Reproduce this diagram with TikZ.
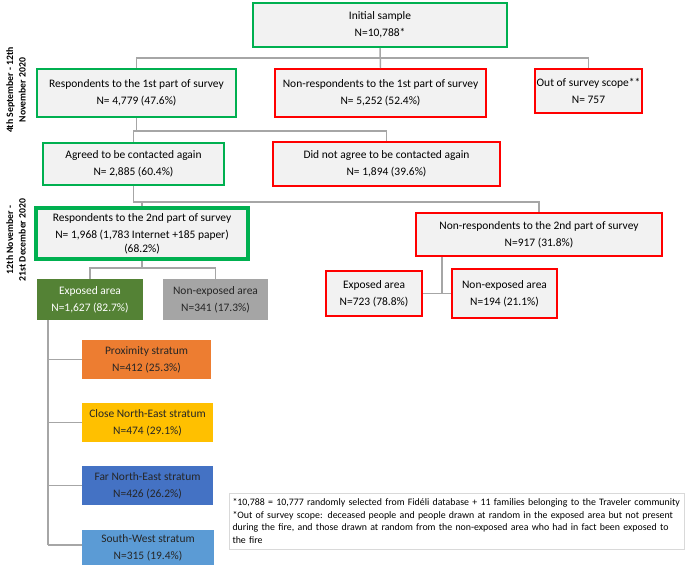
\documentclass[tikz,border=0pt]{standalone}
\usepackage{fontspec}
\setmainfont{Carlito}
\usepackage{tikz}
\usetikzlibrary{positioning}
\definecolor{boxgray}{HTML}{F2F2F2}
\definecolor{okgreen}{HTML}{00B050}
\definecolor{nored}{HTML}{FF0000}
\definecolor{linkgray}{HTML}{A6A6A6}
\definecolor{expgreen}{HTML}{548235}
\definecolor{nexpgray}{HTML}{A5A5A5}
\definecolor{proxorange}{HTML}{ED7D31}
\definecolor{closeyellow}{HTML}{FFC000}
\definecolor{farblue}{HTML}{4472C4}
\definecolor{swblue}{HTML}{5B9BD5}
\tikzset{bsize/.style 2 args = {minimum width=#1*0.75pt, minimum height=#2*0.75pt}}
\tikzset{sbox/.style = {rectangle, fill=boxgray, align=center, inner sep=1pt, font=\fontsize{8.6}{12.6}\selectfont}}
\tikzset{okbox/.style = {sbox, draw=okgreen, line width=1.5pt}}
\tikzset{nobox/.style = {sbox, draw=nored, line width=1.5pt}}
\tikzset{fillbox/.style = {sbox, draw=none, text=black!85}}
\tikzset{link/.style = {draw=linkgray, line width=1.1pt}}
\tikzset{period/.style = {rotate=90, align=center, font=\fontsize{7.3}{9.5}\selectfont\bfseries}}

\begin{document}
\begin{tikzpicture}[x=0.75pt, y=-0.75pt]
      \useasboundingbox (0,0) rectangle (685,564);

      \node [okbox, bsize={254}{44}] (init) at (380,25) {Initial sample\\N=10,788*};

      \node [okbox, bsize={199}{48}] (resp1) at (136.5,93) {Respondents to the 1st part of survey\\N= 4,779 (47.6\%)};
      \node [nobox, bsize={211}{48}] (nonresp1) at (380.5,93) {Non-respondents to the 1st part of survey\\N= 5,252 (52.4\%)};
      \node [nobox, bsize={107}{44}] (out) at (588.5,91) {Out of survey scope**\\N= 757};

      \node [okbox, bsize={181}{42}] (agree) at (133.5,164) {Agreed to be contacted again\\N= 2,885 (60.4\%)};
      \node [nobox, bsize={227}{44}] (disagree) at (386.5,164) {Did not agree to be contacted again\\N= 1,894 (39.6\%)};

      \node [okbox, line width=2.3pt, bsize={212}{51}] (resp2) at (142,233.5) {Respondents to the 2nd part of survey\\N= 1,968 (1,783 Internet +185 paper)\\[-2pt](68.2\%)};
      \node [nobox, bsize={246}{43}] (nonresp2) at (539,234.5) {Non-respondents to the 2nd part of survey\\N=917 (31.8\%)};

      \node [fillbox, fill=expgreen, text=white, bsize={106}{41}] (expo) at (90,299.5) {Exposed area\\N=1,627 (82.7\%)};
      \node [fillbox, fill=nexpgray, bsize={105}{41}] (nonexpo) at (215.5,299.5) {Non-exposed area\\N=341 (17.3\%)};

      \node [nobox, bsize={96}{45}] (expoR) at (374,293.5) {Exposed area\\N=723 (78.8\%)};
      \node [nobox, bsize={105}{49}] (nonexpoR) at (504.5,293.5) {Non-exposed area\\N=194 (21.1\%)};

      \node [fillbox, fill=proxorange, bsize={129}{39}] (prox) at (146.5,359.5) {Proximity stratum\\N=412 (25.3\%)};
      \node [fillbox, fill=closeyellow, bsize={131}{39}] (close) at (147.5,422.5) {Close North-East stratum\\N=474 (29.1\%)};
      \node [fillbox, fill=farblue, bsize={131}{39}] (far) at (147.5,485.5) {Far North-East stratum\\N=426 (26.2\%)};
      \node [fillbox, fill=swblue, bsize={132}{36}] (sw) at (148,548) {South-West stratum\\N=315 (19.4\%)};

      \node [draw=black!15, fill=white, line width=0.6pt, bsize={455}{56}, inner sep=2pt, align=left, text width=448*0.75pt,
             font=\fontsize{7.4}{9.7}\selectfont] (note) at (456.5,521)
            {*10,788 = 10,777 randomly selected from Fidéli database + 11 families belonging to the Traveler community\\
             **Out of survey scope: deceased people and people drawn at random in the exposed area but not present during the fire, and those drawn at random from the non-exposed area who had in fact been exposed to the fire};

      \node [period] (first) at (16,90) {4th September - 12th\\November 2020};
      \node [period] (second) at (16,240) {12th November -\\21st December 2020};

      % connectors
      \coordinate (j1) at (380,58);
      \draw [link] (init.south) -- (nonresp1.north);
      \draw [link] (j1) -| (resp1.north);
      \draw [link] (j1) -| (out.north);

      \coordinate (j2) at (136.5,131);
      \draw [link] (resp1.south) -- (j2) -| (disagree.north);
      \draw [link] (j2) -| (agree.north);

      \coordinate (j3) at (133.5,202);
      \draw [link] (agree.south) -- (j3) -| (nonresp2.north);
      \draw [link] (j3) -| (resp2.north);

      \coordinate (j4) at (142,268);
      \draw [link] (resp2.south) -- (j4) -| (expo.north);
      \draw [link] (j4) -| (nonexpo.north);

      \coordinate (j5) at (442,293.5);
      \draw [link] (nonresp2.south -| j5) -- (j5);
      \draw [link] (expoR.east) -- (nonexpoR.west);

      \coordinate (j6) at (48,545);
      \draw [link] (expo.south -| j6) -- (j6);
      \foreach \s in {prox,close,far}
        \draw [link] (j6 |- \s.west) -- (\s.west);
      \draw [link] (j6) -- (j6 -| sw.west);
    \end{tikzpicture}
\end{document}
